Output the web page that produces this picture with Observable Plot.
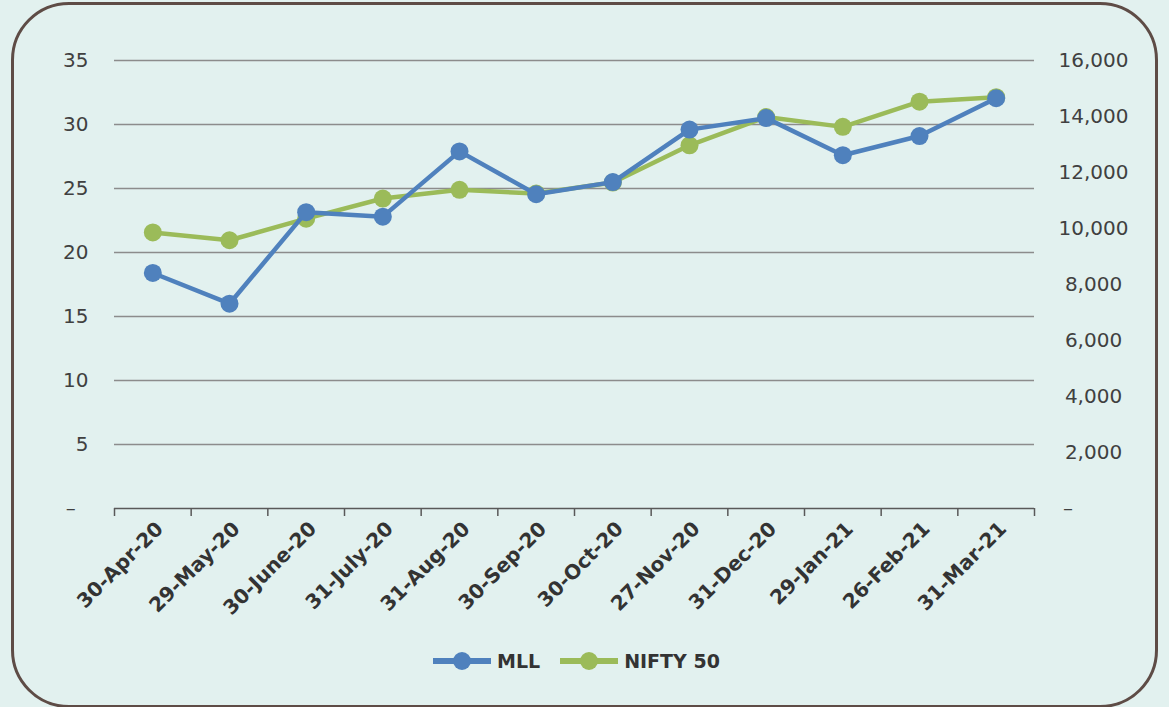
<!DOCTYPE html>
<html>
<head>
<meta charset="utf-8">
<script src="https://cdn.jsdelivr.net/npm/d3@7"></script>
<script src="https://cdn.jsdelivr.net/npm/@observablehq/plot@0.6"></script>
<style>
  html, body { margin: 0; padding: 0; background: #e2f1ef; }
  #wrap { position: relative; width: 1169px; height: 707px; overflow: hidden; background: #e2f1ef; font-family: "DejaVu Sans", sans-serif; }
  #frame { position: absolute; left: 11px; top: 2px; width: 1147px; height: 706px; border: 3px solid #5e4c46; border-radius: 58px; box-sizing: border-box; }
  #chart { position: absolute; left: 0; top: 0; }
  #legend { position: absolute; left: 433px; top: 650px; display: flex; align-items: center; font-weight: bold; font-size: 19px; color: #333; }
  .item { display: flex; align-items: center; margin-right: 20px; }
  .item svg { margin-right: 6px; }
</style>
</head>
<body>
<div id="wrap">
  <div id="frame"></div>
  <div id="chart"></div>
  <div id="legend"></div>
</div>
<script>
const categories = ["30-Apr-20","29-May-20","30-June-20","31-July-20","31-Aug-20","30-Sep-20","30-Oct-20","27-Nov-20","31-Dec-20","29-Jan-21","26-Feb-21","31-Mar-21"];
const mllValues = [18.4, 16.0, 23.15, 22.8, 27.9, 24.55, 25.5, 29.6, 30.5, 27.6, 29.1, 32.05];
const niftyValues = [9860, 9580, 10350, 11070, 11380, 11250, 11640, 12970, 13980, 13630, 14530, 14690];
const seriesNames = ["MLL", "NIFTY 50"];
const seriesColors = ["#4f81bd", "#9bbb59"];
const leftTicks = [0, 5, 10, 15, 20, 25, 30, 35];
const rightTicks = [0, 2000, 4000, 6000, 8000, 10000, 12000, 14000, 16000];
const leftMax = 35, rightMax = 16000;

const k = leftMax / rightMax;
const mll = categories.map((c, i) => ({i, c, v: mllValues[i]}));
const nifty = categories.map((c, i) => ({i, c, v: niftyValues[i] * k}));
const nb = "\u00a0";

const chart = Plot.plot({
  width: 1169,
  height: 640,
  marginLeft: 114,
  marginRight: 135,
  marginTop: 60,
  marginBottom: 132,
  style: {background: "transparent", fontFamily: "DejaVu Sans, sans-serif", color: "#404040", overflow: "visible"},
  x: {domain: [0, categories.length], axis: null},
  y: {domain: [0, leftMax], axis: null},
  marks: [
    Plot.gridY(leftTicks.filter(d => d > 0), {stroke: "#8c8c8c", strokeOpacity: 1, strokeWidth: 1.5}),
    Plot.axisY(leftTicks, {anchor: "left", label: null, tickSize: 0, tickPadding: 26, fontSize: 20, fill: "#404040",
      tickFormat: d => d === 0 ? "–" + nb + nb : String(d)}),
    Plot.axisY(rightTicks.map(v => v * k), {anchor: "right", label: null, tickSize: 0, tickPadding: 59, textAnchor: "middle", fontSize: 20, fill: "#404040",
      tickFormat: d => { const v = Math.round(d / k); return v === 0 ? "–" + nb.repeat(8) : d3.format(",")(v); }}),
    Plot.ruleY([0], {stroke: "#595959", strokeWidth: 1.5}),
    Plot.axisX(d3.range(categories.length + 1), {anchor: "bottom", label: null, tickSize: 8, tickFormat: () => "", stroke: "#595959", strokeWidth: 1.5}),
    Plot.axisX(d3.range(categories.length).map(i => i + 0.5), {anchor: "bottom", label: null, tickSize: 0, tickPadding: 17, dx: 7, tickRotate: -45,
      fontSize: 20, fontWeight: "bold", fill: "#333333", tickFormat: d => categories[Math.floor(d)]}),
    Plot.line(nifty, {x: d => d.i + 0.5, y: "v", stroke: seriesColors[1], strokeWidth: 4.5}),
    Plot.dot(nifty, {x: d => d.i + 0.5, y: "v", r: 9, fill: seriesColors[1], stroke: "none"}),
    Plot.line(mll, {x: d => d.i + 0.5, y: "v", stroke: seriesColors[0], strokeWidth: 4.5}),
    Plot.dot(mll, {x: d => d.i + 0.5, y: "v", r: 9, fill: seriesColors[0], stroke: "none"})
  ]
});
document.getElementById("chart").appendChild(chart);

const legend = document.getElementById("legend");
seriesNames.forEach((name, j) => {
  const item = document.createElement("div");
  item.className = "item";
  item.innerHTML = `<svg width="58" height="20"><line x1="0" y1="10" x2="58" y2="10" stroke="${seriesColors[j]}" stroke-width="6"/><circle cx="29" cy="10" r="9" fill="${seriesColors[j]}"/></svg><span>${name}</span>`;
  legend.appendChild(item);
});
</script>
</body>
</html>
